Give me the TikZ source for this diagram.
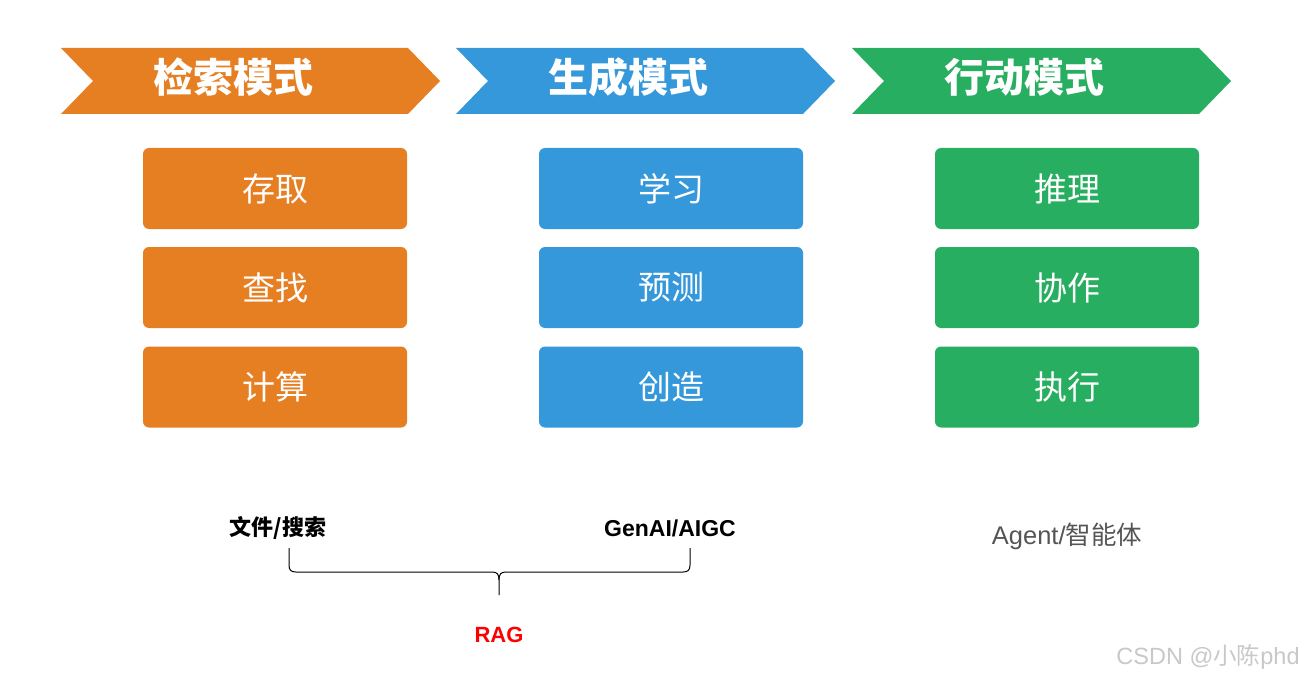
\documentclass[tikz,border=0pt]{standalone}
\usepackage{fontspec}
\setmainfont{Liberation Sans}
\newfontfamily\cjk{Noto Sans CJK SC}
\definecolor{modeorange}{HTML}{E67E22}
\definecolor{modeblue}{HTML}{3498DB}
\definecolor{modegreen}{HTML}{27AE60}
\definecolor{agentgray}{HTML}{555555}
\definecolor{markgray}{HTML}{C8C8C8}
\begin{document}
\begin{tikzpicture}[x=1pt,y=-1pt,
  title/.style={text=white,font=\cjk\bfseries\fontsize{40}{42}\selectfont,anchor=center},
  item/.style={rectangle,rounded corners=6pt,minimum width=264pt,minimum height=81pt,
    text=white,font=\cjk\fontsize{33}{35}\selectfont,inner sep=0pt},
  note/.style={font=\cjk\bfseries\fontsize{22}{24}\selectfont,text=black},
  brace/.style={draw=black,line width=1pt}]
\useasboundingbox (0,0) rectangle (1306,679);

% chevron banners
\foreach \x/\c/\t/\n in {61/modeorange/检索模式/ta, 456/modeblue/生成模式/tb, 852/modegreen/行动模式/tc}{
  \fill[\c] (\x,48) -- ++(347,0) -- ++(32,33) -- ++(-32,33) -- ++(-347,0) -- ++(32,-33) -- cycle;
  \node[title] (\n) at (\x+172,77) {\t};
}

% item boxes
\foreach \x/\c/\a/\b/\d/\n in {275/modeorange/存取/查找/计算/a, 671/modeblue/学习/预测/创造/b, 1067/modegreen/推理/协作/执行/c}{
  \node[item,fill=\c] (\n1) at (\x,188.5) {\a};
  \node[item,fill=\c] (\n2) at (\x,287.5) {\b};
  \node[item,fill=\c] (\n3) at (\x,387) {\d};
}

% bottom labels
\node[note] (search) at (278,528) {文件/搜索};
\node[font=\bfseries\fontsize{23}{25}\selectfont] (genai) at (670,528) {GenAI/AIGC};
\node[font=\fontsize{25.5}{27}\selectfont,text=agentgray] (agent) at (1067,536) {Agent/{\cjk 智能体}};
\node[font=\bfseries\fontsize{22}{24}\selectfont,text=red] (rag) at (499,635) {RAG};

% curly brace joining the two labels above RAG
\coordinate (bl) at (289,548);
\coordinate (br) at (690,548);
\coordinate (bm) at (499,595);
\draw[brace] (bl) -- (289,565) .. controls (289,570) and (291,572) .. (296,572) -- (492,572)
  .. controls (497,572) and (499,574) .. (499,580) -- (bm);
\draw[brace] (499,580) .. controls (499,574) and (501,572) .. (506,572) -- (683,572)
  .. controls (688,572) and (690,570) .. (690,565) -- (br);

% watermark
\node[font=\fontsize{23.5}{25}\selectfont,text=markgray] (mark) at (1208,657) {CSDN @{\cjk 小陈}phd};
\end{tikzpicture}
\end{document}
